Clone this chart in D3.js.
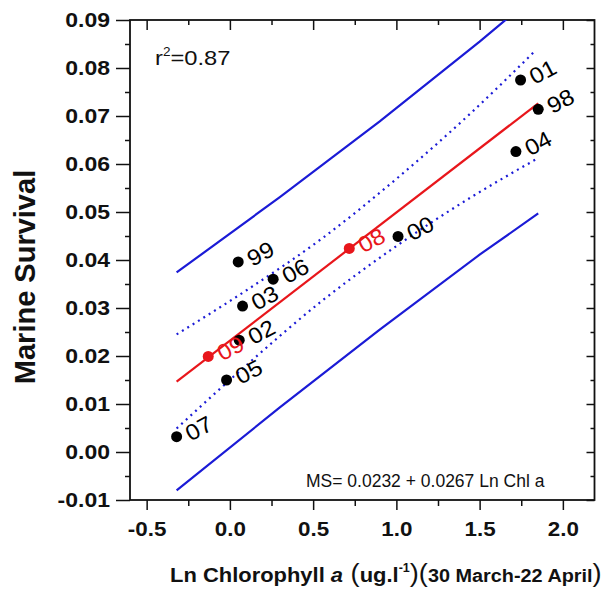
<!DOCTYPE html>
<html><head><meta charset="utf-8">
<script src="https://cdn.jsdelivr.net/npm/d3@7/dist/d3.min.js"></script>
<style>
body{margin:0;background:#fff;}
svg text{font-family:"Liberation Sans",Arial,Helvetica,sans-serif;}
</style>
</head><body>
<svg id="chart" width="601" height="590"></svg>
<script>
// ---- data ----
const years   = ["98","99","00","01","02","03","04","05","06","07","08","09"];
const lnChl   = [1.852,0.050,1.010,1.746,0.056,0.076,1.718,-0.020,0.260,-0.320,0.717,-0.130];
const survival= [0.0714,0.0396,0.0449,0.0775,0.0233,0.0304,0.0626,0.0150,0.0360,0.0032,0.0424,0.0199];
const highlight=["08","09"];
// regression line endpoints (MS = 0.0232 + 0.0267 Ln Chl a)
const fitX = [-0.32, 1.852];
const fitY = [0.01466, 0.07265];
// 95% confidence band (dotted)
const ciX     = [-0.32, 0.10, 0.55, 1.00, 1.45, 1.84];
const ciUpper = [0.0245,0.0337,0.0444,0.0569,0.0707,0.0838];
const ciLower = [0.0049,0.0181,0.0314,0.0429,0.0531,0.0610];
// prediction band (solid)
const piX     = [-0.32, 0.30, 0.90, 1.50, 1.852];
const piUpper = [0.0374,0.0531,0.0689,0.0855,0.0957];
const piLower = [-0.0080,0.0093,0.0255,0.0411,0.0497];
const xTicks = [-0.5,0.0,0.5,1.0,1.5,2.0];
const xMinor = [-0.25,0.25,0.75,1.25,1.75];
const yTicks = [-0.01,0.00,0.01,0.02,0.03,0.04,0.05,0.06,0.07,0.08,0.09];
const yMinor = [-0.005,0.005,0.015,0.025,0.035,0.045,0.055,0.065,0.075,0.085];

// ---- chart ----
const svg = d3.select("#chart");
const L=130,R=594.5,T=20,B=500;
const x = d3.scaleLinear().domain([-0.6,2.19]).range([L,R]);
const y = d3.scaleLinear().domain([-0.01,0.09]).range([B,T]);
const BLUE="#1b1bd6", RED="#e8161b";

svg.append("clipPath").attr("id","clip").append("rect")
  .attr("x",L).attr("y",T).attr("width",R-L).attr("height",B-T);

// axes
const fmtY = d3.format(".2f"), fmtX = d3.format(".1f");
const fmtMinus = s => s.replace("−","-");
const gl = svg.append("g").attr("transform",`translate(${L},0)`)
  .call(d3.axisLeft(y).tickValues(yTicks).tickSize(14).tickFormat(d=>fmtMinus(fmtY(d))));
gl.selectAll("text").attr("x",-17.4).attr("transform","scale(1.15,1)");
svg.append("g").attr("transform",`translate(${L},0)`)
  .call(d3.axisLeft(y).tickValues(yMinor).tickSize(5).tickFormat(""));
const gb = svg.append("g").attr("transform",`translate(0,${B})`)
  .call(d3.axisBottom(x).tickValues(xTicks).tickSize(10).tickFormat(d=>fmtMinus(fmtX(d))));
gb.selectAll("text").attr("y",22).attr("transform","scale(1.12,1)");
svg.append("g").attr("transform",`translate(0,${B})`)
  .call(d3.axisBottom(x).tickValues(xMinor).tickSize(6).tickFormat(""));
svg.append("g").attr("transform",`translate(0,${T})`)
  .call(d3.axisTop(x).tickValues(xTicks).tickSize(-10).tickFormat(""));
svg.append("g").attr("transform",`translate(0,${T})`)
  .call(d3.axisTop(x).tickValues(xMinor).tickSize(-5).tickFormat(""));
svg.append("g").attr("transform",`translate(${R},0)`)
  .call(d3.axisRight(y).tickValues(yTicks).tickSize(-8).tickFormat(""));
svg.append("g").attr("transform",`translate(${R},0)`)
  .call(d3.axisRight(y).tickValues(yMinor).tickSize(-4).tickFormat(""));
svg.selectAll(".domain").remove();
svg.selectAll(".tick line").attr("stroke","#111").attr("stroke-width",1.5);
svg.selectAll(".tick text").attr("font-size",20).attr("font-weight","bold").attr("fill","#111");

svg.append("rect").attr("x",L).attr("y",T).attr("width",R-L).attr("height",B-T)
  .attr("fill","none").attr("stroke","#111").attr("stroke-width",1.8);

const plot = svg.append("g").attr("clip-path","url(#clip)");
const line = d3.line().x(d=>x(d[0])).y(d=>y(d[1]));
// prediction bands
plot.append("path").datum(piX.map((v,i)=>[v,piUpper[i]])).attr("d",line)
  .attr("fill","none").attr("stroke",BLUE).attr("stroke-width",2.2);
plot.append("path").datum(piX.map((v,i)=>[v,piLower[i]])).attr("d",line)
  .attr("fill","none").attr("stroke",BLUE).attr("stroke-width",2.2);
// confidence bands
const curve = d3.line().x(d=>x(d[0])).y(d=>y(d[1])).curve(d3.curveMonotoneX);
[ciUpper,ciLower].forEach(arr=>{
  plot.append("path").datum(ciX.map((v,i)=>[v,arr[i]])).attr("d",curve)
    .attr("fill","none").attr("stroke",BLUE).attr("stroke-width",2.2)
    .attr("stroke-dasharray","2,4.3");
});
// fit line
plot.append("path").datum(fitX.map((v,i)=>[v,fitY[i]])).attr("d",line)
  .attr("fill","none").attr("stroke",RED).attr("stroke-width",2.2);

// points
const pts = years.map((yr,i)=>({yr,x:lnChl[i],y:survival[i],red:highlight.includes(yr)}));
plot.selectAll("circle.pt").data(pts).enter().append("circle")
  .attr("cx",d=>x(d.x)).attr("cy",d=>y(d.y)).attr("r",5.5)
  .attr("fill",d=>d.red?RED:"#000");
svg.selectAll("text.lab").data(pts).enter().append("text")
  .attr("transform",d=>`translate(${x(d.x)+14},${y(d.y)+5}) rotate(-28) scale(1.08,1)`)
  .attr("font-size",22.5).attr("fill",d=>d.red?RED:"#000").text(d=>d.yr);

// annotations
const r2 = svg.append("text").attr("transform","translate(155,65) scale(1.13,1)")
  .attr("font-size",21).attr("fill","#111");
r2.append("tspan").text("r");
r2.append("tspan").attr("font-size",12).attr("dy",-9).text("2");
r2.append("tspan").attr("dy",9).text("=0.87");
svg.append("text").attr("x",306).attr("y",487).attr("font-size",17.5).attr("fill","#111")
  .text("MS= 0.0232 + 0.0267 Ln Chl a");

// axis titles
svg.append("text").attr("transform","translate(35,277) rotate(-90)")
  .attr("text-anchor","middle").attr("font-size",29).attr("font-weight","bold").attr("fill","#111")
  .text("Marine Survival");
const xt = svg.append("text").attr("transform","translate(170,582) scale(1.045,1)").attr("font-size",21)
  .attr("font-weight","bold").attr("fill","#111");
xt.append("tspan").text("Ln Chlorophyll ");
xt.append("tspan").attr("font-style","italic").text("a");
xt.append("tspan").attr("font-size",26).attr("font-weight","normal").text(" (");
xt.append("tspan").text("ug.l");
xt.append("tspan").attr("font-size",12).attr("dy",-10).text("-1");
xt.append("tspan").attr("dy",10).attr("font-size",26).attr("font-weight","normal").text(")(");
xt.append("tspan").attr("font-size",19).text("30 March-22 April");
xt.append("tspan").attr("font-size",26).attr("font-weight","normal").text(")");
</script>
</body></html>
